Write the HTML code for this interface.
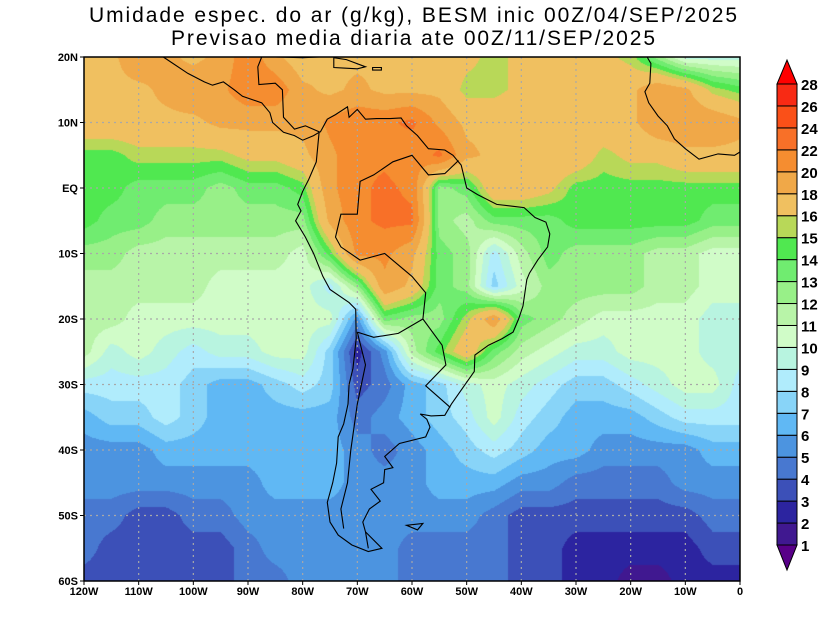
<!DOCTYPE html>
<html><head><meta charset="utf-8">
<style>
html,body{margin:0;padding:0;background:#fff;}
#wrap{position:relative;width:825px;height:637px;overflow:hidden;background:#fff;}
#field{position:absolute;left:84px;top:57px;}
svg{position:absolute;left:0;top:0;}
text{font-family:"Liberation Sans",sans-serif;}
</style></head>
<body>
<div id="wrap">
<canvas id="field" width="656" height="524"></canvas>
<svg id="ov" width="825" height="637"></svg>
</div>
<script>
// ---- data ----
const lons = [-120,-115,-110,-105,-100,-95,-90,-85,-80,-75,-70,-65,-60,-55,-50,-45,-40,-35,-30,-25,-20,-15,-10,-5,0];
const lats = [20,15,10,5,0,-5,-10,-15,-20,-25,-30,-35,-40,-45,-50,-55,-60];
const row20  = [17,17,19,18,17,18,21,18,16,17,17,17,17,17,16,15,16,16,17,16,15,12,9,9,9];
const row15  = [17,17,17,18,19,19,21,21,18,17,18,17,17,17,15,15,16,17,17,17,17,19,18,15,14];
const row10  = [17,17,17,17,17,18,18,18,18,20,21,21,22,19,17,17,17,17,17,17,17,19,19,19,18];
const row5   = [14,14,15,15,15,15,16,16,17,19,21,21,20,22,18,17,17,17,17,15,16,16,17,17,17];
const row0   = [14,14,13,13,13,12,13,13,14,19,21,22,21,12,13,17,17,16,14,14,14,14,14,14,14];
const rowS5  = [14,13,13,12,12,12,12,12,12,18,21,22,22,12,11,13,13,13,14,14,14,14,14,13,13];
const rowS10 = [12,12,11,11,11,11,11,11,10,14,20,20,18,13,12,8,11,13,12,12,12,11,11,10,10];
const rowS15 = [11,11,11,11,11,10,10,10,10,8,12,19,17,13,12,7,10,12,12,12,12,11,11,10,10];
const rowS20 = [11,11,10,10,10,10,10,10,10,10,5,13,12,12,15,19,13,12,11,10,10,10,10,9,9];
const rowS25 = [11,9,10,9,8,9,9,10,10,7,2,5,11,14,17,13,11,10,9,9,10,10,10,9,9];
const rowS30 = [8,8,8,8,7,6,6,7,8,7,3,4,6,7,9,10,9,8,7,7,8,9,10,10,8];
const rowS35 = [6,7,7,8,7,6,6,6,6,6,4,5,6,7,8,10,8,7,6,6,6,7,8,8,8];
const rowS40 = [5,5,5,6,6,6,6,6,6,6,5,4,5,6,7,8,7,6,6,5,5,5,5,6,6];
const rowS45 = [5,5,5,5,5,5,5,6,6,6,5,5,5,6,6,6,5,5,4,4,4,4,5,5,5];
const rowS50 = [4,4,3,3,4,4,5,5,5,5,5,5,5,5,5,4,3,3,3,3,3,3,3,4,4];
const rowS55 = [4,3,3,3,3,3,4,5,5,5,5,5,4,4,4,4,3,3,2,2,2,2,2,3,3];
const rowS60 = [3,3,3,3,3,3,4,4,5,5,5,5,4,4,4,4,3,3,2,2,1,1,2,2,2];
const grid = [row20,row15,row10,row5,row0,rowS5,rowS10,rowS15,rowS20,rowS25,rowS30,rowS35,rowS40,rowS45,rowS50,rowS55,rowS60];
const levels = [1,2,3,4,5,6,7,8,9,10,11,12,13,14,15,16,18,20,22,24,26,28];
const colors = ["#580088","#401890","#2c24a0","#3c50b8","#4878d0","#4c94e0","#60b8f4","#88d4f8","#b0ecfc","#b8f4e0","#d0fcc8","#b8f4a8","#98f088","#70ec70","#50e850","#b8d858","#f0c060","#f0a848","#f58d30","#f87028","#fa5018","#f82a14","#ff0000"];
const latLabels = ["20N","10N","EQ","10S","20S","30S","40S","50S","60S"];
const latTicks = [20,10,0,-10,-20,-30,-40,-50,-60];
const lonLabels = ["120W","110W","100W","90W","80W","70W","60W","50W","40W","30W","20W","10W","0"];
const lonTicks = [-120,-110,-100,-90,-80,-70,-60,-50,-40,-30,-20,-10,0];

// ---- axes ----
const X0=84,X1=740,Y0=57,Y1=581;
const xs = lon => X0 + (lon+120)/120*(X1-X0);
const ys = lat => Y0 + (20-lat)/80*(Y1-Y0);
function colorFor(v){let i=0;while(i<levels.length&&v>=levels[i])i++;return colors[i];}

// ---- field ----
const cv=document.getElementById('field'),ctx=cv.getContext('2d');
const W=cv.width,H=cv.height,img=ctx.createImageData(W,H);
const rgbCache={};
function rgb(c){if(!rgbCache[c])rgbCache[c]=[parseInt(c.substr(1,2),16),parseInt(c.substr(3,2),16),parseInt(c.substr(5,2),16)];return rgbCache[c];}
for(let py=0;py<H;py++){
  const lat=20-(py+0.5)/H*80;
  const fr=(20-lat)/5, r0=Math.min(Math.floor(fr),lats.length-2), tr=fr-r0;
  for(let px=0;px<W;px++){
    const lon=-120+(px+0.5)/W*120;
    const fc=(lon+120)/5, c0=Math.min(Math.floor(fc),lons.length-2), tc=fc-c0;
    const v=(grid[r0][c0]*(1-tc)+grid[r0][c0+1]*tc)*(1-tr)+(grid[r0+1][c0]*(1-tc)+grid[r0+1][c0+1]*tc)*tr+0.5;
    const c=rgb(colorFor(v)),k=(py*W+px)*4;
    img.data[k]=c[0];img.data[k+1]=c[1];img.data[k+2]=c[2];img.data[k+3]=255;
  }
}
ctx.putImageData(img,0,0);

// ---- overlay ----
const NS='http://www.w3.org/2000/svg',svg=document.getElementById('ov');
function el(t,a,p){const e=document.createElementNS(NS,t);for(const k in a)e.setAttribute(k,a[k]);(p||svg).appendChild(e);return e;}
const gridG=el('g',{});


lonTicks.forEach(l=>{if(l>-120&&l<0)el('line',{x1:xs(l),x2:xs(l),y1:Y0,y2:Y1,stroke:'#a8a8a8','stroke-width':1.2,'stroke-dasharray':'2,4'},gridG);});
latTicks.forEach(l=>{if(l<20&&l>-60)el('line',{x1:X0,x2:X1,y1:ys(l),y2:ys(l),stroke:'#a8a8a8','stroke-width':1.2,'stroke-dasharray':'2,4'},gridG);});

const coastG=el('g',{fill:'none',stroke:'#000','stroke-width':1.1});


function poly(pts,close){el('path',{d:pts.map((p,i)=>(i?'L':'M')+xs(p[0]).toFixed(1)+','+ys(p[1]).toFixed(1)).join('')+(close?'Z':'')},coastG);}
poly([[-77,8.5],[-77.5,4],[-78.9,1.3],[-80,-0.5],[-80.9,-2.5],[-80.3,-3.5],[-81.3,-5],[-79.5,-7.5],[-78,-10],[-76.3,-13.5],[-75,-15.5],[-71.5,-17.5],[-70.3,-18.5],[-70.2,-23],[-70.8,-27.5],[-71.5,-30],[-71.7,-33],[-72.5,-36],[-73.5,-38],[-73.8,-42],[-74.5,-45],[-75.5,-48],[-75,-51],[-73.5,-53],[-71,-54.5],[-68,-55.5],[-65.5,-55],[-68.5,-52.5],[-69,-51],[-67.8,-49],[-65.8,-47.8],[-67.5,-46],[-65.2,-45],[-65,-43],[-63.5,-42.7],[-65,-41],[-62.3,-39],[-57.5,-38],[-56.7,-36.5],[-57.3,-35.3],[-58.5,-34.5],[-56.5,-34.8],[-54,-34.7],[-52.8,-33],[-50.7,-30.5],[-48.6,-28],[-48.5,-25.5],[-46,-24],[-43.5,-23],[-41.5,-22],[-40.5,-20],[-39.7,-18],[-39,-14],[-38.5,-13],[-37,-11],[-35.2,-9],[-34.8,-7],[-35.5,-5.2],[-37.5,-4.5],[-39.5,-3],[-41.5,-2.8],[-44.5,-2.5],[-48,-1],[-50,0],[-51,3.5],[-52.5,5],[-54,5.8],[-57,6],[-59,8],[-61,9.5],[-62,10.7],[-64,10.6],[-66.5,10.6],[-68.5,10.5],[-70,12],[-71.5,10.8],[-71.8,12.4],[-74,11.2],[-75.5,10.5],[-76.8,8.5]],false);
poly([[-77,8.5],[-78,8],[-80,7.3],[-81.5,8],[-83.5,8.5],[-85.5,10],[-86,11.5],[-87.5,13],[-91,14],[-92.5,15],[-94.5,16.2],[-96.5,15.7],[-98,16.2],[-101,17.5],[-105.5,20]]);
poly([[-76.8,8.5],[-79.5,9.5],[-81.5,9],[-83.5,10.8],[-83.7,15],[-85,16],[-88,15.8],[-88.2,18.5],[-87.5,20]]);
poly([[-17,20],[-16.3,19],[-16.5,16],[-17.4,14.7],[-16.7,13],[-15,11],[-13.3,9.5],[-12,7.5],[-10,6],[-7.5,4.4],[-4,5.2],[-1,5],[0,5.5]]);
poly([[-85,20],[-80,19.9],[-77,20]]);
poly([[-74.3,19.9],[-72,19.6],[-68.5,18.5],[-70,18.2],[-72.5,18.3],[-74.3,18.4]],true);
poly([[-67.2,18.4],[-65.6,18.4],[-65.6,18],[-67.2,18]],true);
poly([[-70,-22],[-67,-22.8],[-62.5,-22.2],[-58,-20],[-57.5,-16],[-60,-13.5],[-65,-10],[-69.5,-11],[-73,-9],[-74,-7.5],[-73,-4],[-70,-4],[-69.5,1],[-67,2],[-63.5,4],[-60,5],[-57,2],[-54,2.2],[-51.5,4.2]]);
poly([[-58,-20],[-54.5,-24],[-53.8,-27],[-57.5,-30.2],[-53,-33.5]]);
poly([[-68,-55],[-68.5,-52.5]]);
poly([[-70,-22],[-68.5,-27],[-70,-33],[-71.2,-40],[-71.8,-45],[-73,-49],[-72.5,-52]]);
poly([[-61,-51.5],[-58,-51.2],[-59,-52.2]],true);

el('rect',{x:X0,y:Y0,width:X1-X0,height:Y1-Y0,fill:'none',stroke:'#000','stroke-width':1.5});

// ticks & labels
latTicks.forEach((l,i)=>{
  el('line',{x1:X0-4,x2:X0,y1:ys(l),y2:ys(l),stroke:'#000'});
  const t=el('text',{x:X0-6,y:ys(l)+4,'text-anchor':'end','font-size':11,'font-weight':'bold'});t.textContent=latLabels[i];
  
  
});
lonTicks.forEach((l,i)=>{
  el('line',{x1:xs(l),x2:xs(l),y1:Y1,y2:Y1+4,stroke:'#000'});
  const t=el('text',{x:xs(l),y:Y1+14,'text-anchor':'middle','font-size':11,'font-weight':'bold'});t.textContent=lonLabels[i];
  
  
});

// title
const t1=el('text',{x:413,y:22,'text-anchor':'middle','font-size':21,textLength:648,lengthAdjust:'spacing'});
t1.textContent='Umidade espec. do ar (g/kg), BESM inic 00Z/04/SEP/2025';


const t2=el('text',{x:413,y:45,'text-anchor':'middle','font-size':21,textLength:484,lengthAdjust:'spacing'});
t2.textContent='Previsao media diaria ate 00Z/11/SEP/2025';



// colorbar
const CB=el('g',{});


const cbX=777,cbW=20,cbTop=84,cbBot=545,n=levels.length-1,step=(cbBot-cbTop)/n;
const cy = i => cbBot - i*step;
el('path',{d:`M${cbX},${cy(0)}L${cbX+cbW},${cy(0)}L${cbX+cbW/2},${cy(0)+25}Z`,fill:colors[0],stroke:'#000'},CB);
for(let i=0;i<n;i++){
  const r=el('rect',{x:cbX,y:cy(i+1),width:cbW,height:step,fill:colors[i+1],stroke:'#000','stroke-width':1},CB);
  
  
}
el('path',{d:`M${cbX},${cy(n)}L${cbX+cbW},${cy(n)}L${cbX+cbW/2},${cy(n)-24}Z`,fill:colors[n+1],stroke:'#000'},CB);
levels.forEach((lv,i)=>{
  const t=el('text',{x:cbX+cbW+4,y:cy(i)+6,'font-size':15,'font-weight':'bold'},CB);t.textContent=lv;
  
  
});
</script>
</body></html>
